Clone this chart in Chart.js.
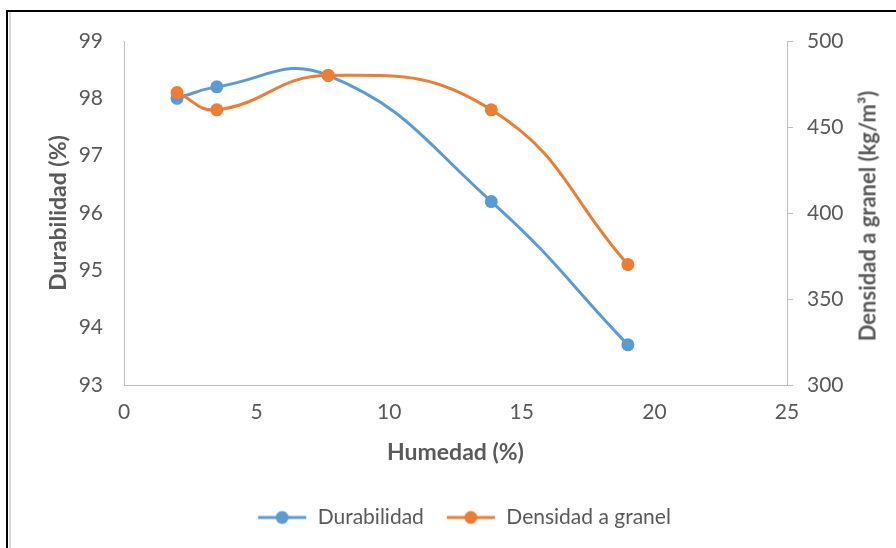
<!DOCTYPE html>
<html>
<head>
<meta charset="utf-8">
<script src="https://cdn.jsdelivr.net/npm/chart.js@4/dist/chart.umd.min.js"></script>
<style>
  html, body { margin: 0; padding: 0; background: #fff; }
  #wrap { position: relative; width: 896px; height: 548px; overflow: hidden; }
  #frame { position: absolute; left: 6px; top: 10px; width: 1000px; height: 700px;
           border-top: 2.5px solid #000; border-left: 2.5px solid #000; box-sizing: border-box; }
  #frame2 { position: absolute; left: 9px; top: 12px; width: 2px; height: 700px; background: #d9d9d9; }
  canvas { position: absolute; left: 0; top: 0; }
  #rtitle { position: absolute; left: 867px; top: 216px; transform: translate(-50%, -50%) rotate(-90deg);
            white-space: nowrap; font-family: Lato, "Open Sans", sans-serif; font-weight: bold;
            font-size: 22px; color: #595959; }
</style>
</head>
<body>
<div id="wrap">
  <div id="frame"></div>
  <div id="frame2"></div>
  <canvas id="c" width="896" height="548"></canvas>
  <div id="rtitle">Densidad a granel (kg/m³)</div>
</div>
<script>
const humedad = [2, 3.5, 7.7, 13.85, 19];
const durabilidad = [98.0, 98.2, 98.4, 96.2, 93.7];
const densidad = [470, 460, 480, 460, 370];
const seriesNames = ['Durabilidad', 'Densidad a granel'];
const xTicks = [0, 5, 10, 15, 20, 25];
const leftTicks = [93, 94, 95, 96, 97, 98, 99];
const rightTicks = [300, 350, 400, 450, 500];

const BLUE = '#5B9BD5', ORANGE = '#ED7D31', TXT = '#595959', AX = '#bfbfbf';
const FONT = 'Lato, "Open Sans", sans-serif';

function legendMarker(color) {
  const c = document.createElement('canvas');
  c.width = 50; c.height = 16;
  const g = c.getContext('2d');
  g.strokeStyle = color; g.lineWidth = 3;
  g.beginPath(); g.moveTo(1, 8); g.lineTo(49, 8); g.stroke();
  g.fillStyle = color;
  g.beginPath(); g.arc(25, 8, 6.5, 0, Math.PI * 2); g.fill();
  return c;
}
const markers = [legendMarker(BLUE), legendMarker(ORANGE)];

new Chart(document.getElementById('c'), {
  type: 'line',
  data: {
    datasets: [
      { label: seriesNames[0], data: humedad.map((x, i) => ({ x, y: durabilidad[i] })),
        yAxisID: 'y', borderColor: BLUE, backgroundColor: BLUE, borderWidth: 3,
        pointRadius: 6.5, pointHoverRadius: 6.5, pointBorderWidth: 0, tension: 0.45, order: 2 },
      { label: seriesNames[1], data: humedad.map((x, i) => ({ x, y: densidad[i] })),
        yAxisID: 'y1', borderColor: ORANGE, backgroundColor: ORANGE, borderWidth: 3,
        pointRadius: 6.5, pointHoverRadius: 6.5, pointBorderWidth: 0, tension: 0.45, order: 1 }
    ]
  },
  options: {
    responsive: false,
    animation: false,
    layout: { padding: { top: 41, left: 32, right: 0, bottom: 10 } },
    plugins: {
      tooltip: { enabled: false },
      legend: {
        position: 'bottom',
        labels: {
          usePointStyle: true, pointStyleWidth: 50, boxHeight: 16,
          color: TXT, font: { family: FONT, size: 21 }, padding: 22,
          sort: (a, b) => a.datasetIndex - b.datasetIndex,
          generateLabels(chart) {
            const items = Chart.defaults.plugins.legend.labels.generateLabels(chart);
            items.forEach(it => { it.pointStyle = markers[it.datasetIndex]; });
            return items;
          }
        }
      }
    },
    scales: {
      x: {
        type: 'linear', min: 0, max: 25,
        afterBuildTicks(s) { s.ticks = xTicks.map(v => ({ value: v })); },
        afterFit(s) { s.height = 100; },
        grid: { display: true, drawOnChartArea: false, drawTicks: false },
        border: { color: AX, width: 1 },
        ticks: { color: TXT, font: { family: FONT, size: 21 }, padding: 15 },
        title: { display: true, text: 'Humedad (%)', color: TXT, font: { family: FONT, size: 23, weight: 'bold' },
                 padding: { top: 0, bottom: 19 } }
      },
      y: {
        position: 'left', min: 93, max: 99,
        afterBuildTicks(s) { s.ticks = leftTicks.map(v => ({ value: v })); },
        afterFit(s) { s.width = 92; },
        grid: { display: true, drawOnChartArea: false, drawTicks: false },
        border: { color: AX, width: 1 },
        ticks: { color: TXT, font: { family: FONT, size: 21 }, padding: 21 },
        title: { display: true, text: 'Durabilidad (%)', color: TXT, font: { family: FONT, size: 23, weight: 'bold' },
                 padding: { top: 13, bottom: 0 } }
      },
      y1: {
        position: 'right', min: 300, max: 500,
        afterBuildTicks(s) { s.ticks = rightTicks.map(v => ({ value: v })); },
        afterFit(s) { s.width = 109; },
        grid: { display: true, drawOnChartArea: false, drawTicks: true, tickLength: 6, color: AX },
        border: { color: AX, width: 1 },
        ticks: { color: TXT, font: { family: FONT, size: 21 }, padding: 14 }
      }
    }
  }
});
</script>
</body>
</html>
